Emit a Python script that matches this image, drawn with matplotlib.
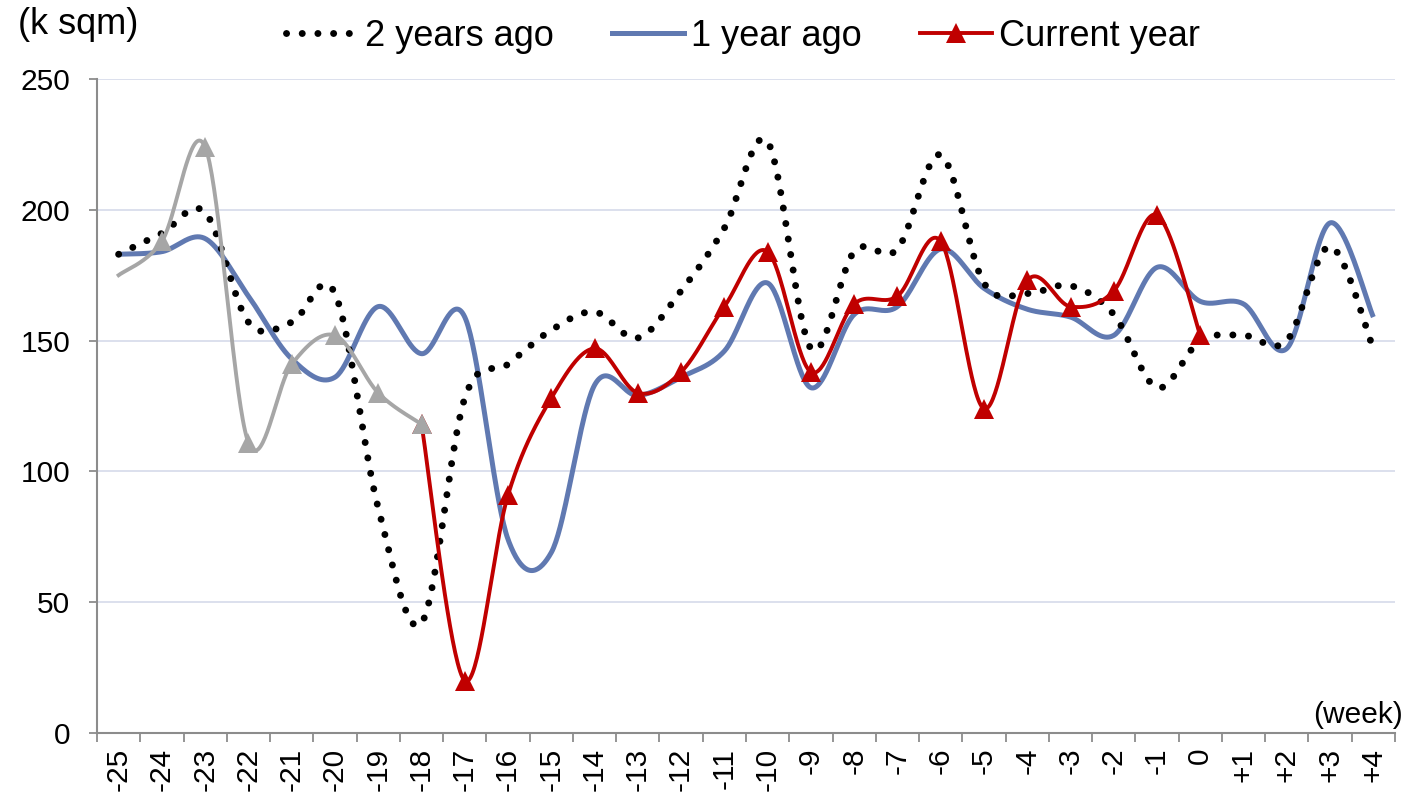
import numpy as np
import matplotlib
matplotlib.use("Agg")
import matplotlib.pyplot as plt
from matplotlib.lines import Line2D

plt.rcParams['font.family'] = ['Liberation Sans', 'DejaVu Sans']

weeks = ['-25', '-24', '-23', '-22', '-21', '-20', '-19', '-18', '-17', '-16',
         '-15', '-14', '-13', '-12', '-11', '-10', '-9', '-8', '-7', '-6',
         '-5', '-4', '-3', '-2', '-1', '0', '+1', '+2', '+3', '+4']

two_years_ago = [183, 191, 199, 157, 157, 168, 86, 42, 128, 141,
                 154, 161, 151, 169, 193, 226, 147, 184, 185, 221,
                 172, 168, 171, 160, 132, 150, 152, 150, 186, 147]

one_year_ago = [183, 184, 189, 167, 143, 136, 163, 145, 159, 74,
                69, 133, 129, 136, 146, 172, 132, 160, 163, 185,
                170, 162, 159, 152, 178, 165, 164, 147, 195, 159]

# current year, first part (grey) weeks -25..-18
current_early = [175, 188, 224, 111, 141, 152, 130, 118]
# current year, weeks -18..0 (red)
current_year = [118, 20, 91, 128, 147, 130, 138, 163, 184, 138,
                164, 167, 188, 124, 173, 163, 169, 198, 152]

BLUE = '#6079B1'
RED = '#C00000'
GREY = '#A6A6A6'
AXC = '#8C8C8C'
DOTS = (0, (0.01, 2.25))


def smooth(xs, ys, n=40):
    # excel-ish bezier smoothing through the points
    pts = np.column_stack([xs, ys]).astype(float)
    out = []
    for i in range(len(pts) - 1):
        p0 = pts[i - 1] if i > 0 else pts[i]
        p1 = pts[i]
        p2 = pts[i + 1]
        p3 = pts[i + 2] if i + 2 < len(pts) else pts[i + 1]
        c1 = p1 + (p2 - p0) / 6
        c2 = p2 - (p3 - p1) / 6
        t = np.linspace(0, 1, n)[:, None]
        seg = (1-t)**3*p1 + 3*(1-t)**2*t*c1 + 3*(1-t)*t**2*c2 + t**3*p2
        out.append(seg if i == 0 else seg[1:])
    s = np.vstack(out)
    return s[:, 0], s[:, 1]


fig = plt.figure(figsize=(14.18, 7.96), dpi=100)
ax = fig.add_axes([97/1418, 1-733/796, (1395-97)/1418, (733-79)/796])

x = np.arange(len(weeks))
x_early = x[:len(current_early)]
x_cur = x[7:7+len(current_year)]

sx, sy = smooth(x, one_year_ago)
ax.plot(sx, sy, color=BLUE, lw=3.6, solid_capstyle='butt', zorder=3)

sx, sy = smooth(x, two_years_ago)
ax.plot(sx, sy, color='black', lw=5.0, linestyle=DOTS,
        dash_capstyle='round', zorder=4)

sx, sy = smooth(x_cur, current_year)
ax.plot(sx, sy, color=RED, lw=2.8, zorder=5)
ax.plot(x_cur, current_year, '^', color=RED, ms=14, mew=0, zorder=5)

sx, sy = smooth(x_early, current_early)
ax.plot(sx, sy, color=GREY, lw=2.8, zorder=6)
ax.plot(x_early[1:], current_early[1:], '^', color=GREY, ms=14, mew=0, zorder=6)

ax.set_xlim(-0.5, len(weeks) - 0.5)
ax.set_ylim(0, 250)
ax.set_yticks(np.arange(0, 251, 50))
ax.tick_params(axis='y', direction='out', length=5.8, width=1.3, color=AXC,
               labelsize=21.5, pad=13.5)
ax.set_xticks(np.arange(-0.5, len(weeks), 1))
ax.set_xticklabels([])
ax.tick_params(axis='x', which='major', direction='out', length=6.5,
               width=1.3, color=AXC)
ax.set_xticks(x, minor=True)
ax.set_xticklabels(weeks, minor=True, rotation=90)
ax.tick_params(axis='x', which='minor', length=0, labelsize=21.5, pad=10.5)

ax.grid(axis='y', color='#D9DDEC', lw=1.3)
ax.set_axisbelow(True)
for s in ['top', 'right']:
    ax.spines[s].set_visible(False)
for s in ['left', 'bottom']:
    ax.spines[s].set_color(AXC)
    ax.spines[s].set_linewidth(1.5)

fig.text(18/1418, 1-34/796, '(k sqm)', fontsize=26, ha='left', va='baseline')
fig.text(1403/1418, 1-723/796, '(week)', fontsize=21.5, ha='right', va='baseline')

handles = [
    Line2D([], [], color='black', lw=5.0, linestyle=DOTS,
           dash_capstyle='round'),
    Line2D([], [], color=BLUE, lw=3.6),
    Line2D([], [], color=RED, lw=2.8, marker='^', ms=14, mew=0),
]
fig.legend(handles, ['2 years ago', '1 year ago', 'Current year'],
           loc='center', bbox_to_anchor=(743/1418, 1-36/796), ncol=3,
           frameon=False, fontsize=26, handlelength=2.0, handletextpad=0.2,
           columnspacing=1.6, borderpad=0, borderaxespad=0)

fig.savefig('out.png', dpi=100)
